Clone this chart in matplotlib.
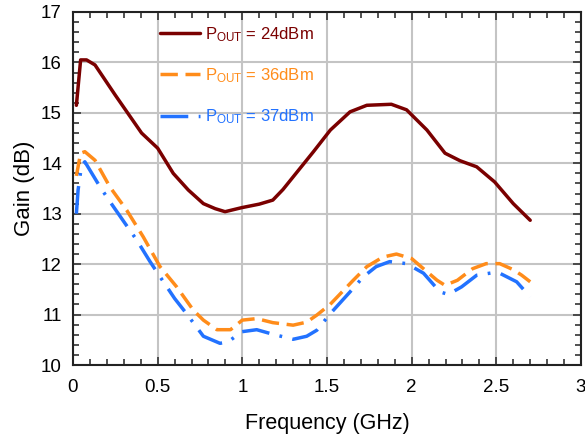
import matplotlib
matplotlib.use("Agg")
import matplotlib.pyplot as plt
from matplotlib.ticker import MultipleLocator

plt.rcParams['font.family'] = ['Liberation Sans', 'DejaVu Sans']
plt.rcParams['mathtext.fontset'] = 'custom'
plt.rcParams['mathtext.rm'] = 'Liberation Sans'
plt.rcParams['mathtext.it'] = 'Liberation Sans'

# P_OUT = 24 dBm
freq_24 = [0.02, 0.045, 0.08, 0.13, 0.25, 0.405, 0.5, 0.592, 0.681, 0.77, 0.84, 0.898, 0.996,
           1.10, 1.18, 1.24, 1.30, 1.42, 1.52, 1.636, 1.735, 1.88, 1.97, 2.09, 2.197, 2.286,
           2.384, 2.49, 2.60, 2.70]
gain_24 = [15.15, 16.05, 16.05, 15.95, 15.35, 14.6, 14.3, 13.8, 13.47, 13.2, 13.1, 13.04, 13.12,
           13.19, 13.27, 13.48, 13.73, 14.23, 14.66, 15.02, 15.15, 15.17, 15.06, 14.66, 14.2, 14.05,
           13.93, 13.63, 13.2, 12.87]

# P_OUT = 36 dBm
freq_36 = [0.02, 0.045, 0.07, 0.13, 0.218, 0.317, 0.415, 0.514, 0.612, 0.71, 0.77, 0.85,
           0.93, 1.0, 1.085, 1.18, 1.30, 1.38, 1.44, 1.518, 1.655, 1.735, 1.83, 1.91, 2.0,
           2.08, 2.15, 2.197, 2.27, 2.36, 2.44, 2.52, 2.60, 2.65, 2.70]
gain_36 = [13.75, 14.2, 14.23, 14.06, 13.53, 13.07, 12.54, 11.95, 11.55, 11.09, 10.89, 10.70,
           10.70, 10.89, 10.92, 10.84, 10.79, 10.85, 10.99, 11.2, 11.68, 11.95, 12.14, 12.2,
           12.11, 11.88, 11.68, 11.58, 11.68, 11.91, 12.01, 12.01, 11.89, 11.78, 11.65]

# P_OUT = 37 dBm
freq_37 = [0.02, 0.03, 0.05, 0.07, 0.16, 0.218, 0.307, 0.376, 0.455, 0.514, 0.60, 0.67,
           0.77, 0.868, 0.917, 0.996, 1.085, 1.18, 1.30, 1.38, 1.44, 1.52, 1.636, 1.715,
           1.79, 1.87, 1.97, 2.07, 2.167, 2.216, 2.295, 2.384, 2.48, 2.52, 2.62, 2.70]
gain_37 = [13.0, 13.47, 13.95, 14.03, 13.53, 13.24, 12.81, 12.48, 12.05, 11.75, 11.32, 11.02,
           10.57, 10.43, 10.46, 10.66, 10.70, 10.61, 10.51, 10.57, 10.69, 11.02, 11.45, 11.75,
           11.95, 12.05, 12.01, 11.82, 11.45, 11.4, 11.55, 11.78, 11.83, 11.82, 11.65, 11.35]

labels = [r'P$_{\mathrm{OUT}}$ = 24dBm', r'P$_{\mathrm{OUT}}$ = 36dBm', r'P$_{\mathrm{OUT}}$ = 37dBm']
colors = ['#7A0000', '#FF8C1A', '#2272FF']

fig = plt.figure(figsize=(5.85, 4.34), dpi=100)
ax = fig.add_axes([73/585, 1-365/434, 508/585, 353/434])

ax.plot(freq_24, gain_24, color=colors[0], lw=2.5, label=labels[0],
        solid_joinstyle='round', solid_capstyle='round')
ax.plot(freq_36, gain_36, color=colors[1], lw=2.5, dashes=(5, 2.2), label=labels[1])
ax.plot(freq_37, gain_37, color=colors[2], lw=2.5, dashes=(8, 3, 0.8, 3), label=labels[2])

ax.set_xlim(0, 3)
ax.set_ylim(10, 17)
ax.xaxis.set_major_locator(MultipleLocator(0.5))
ax.xaxis.set_minor_locator(MultipleLocator(0.1))
ax.yaxis.set_major_locator(MultipleLocator(1))
ax.yaxis.set_minor_locator(MultipleLocator(0.2))
ax.set_xticks([0, 0.5, 1, 1.5, 2, 2.5, 3])
ax.set_xticklabels(['0', '0.5', '1', '1.5', '2', '2.5', '3'])
ax.grid(True, which='major', color='#C4C4C4', lw=1.5)
ax.set_axisbelow(True)
ax.tick_params(which='both', direction='in', top=True, right=True, labelsize=13.5,
               width=1.2, color='#333333')
ax.tick_params(which='major', length=6)
ax.tick_params(axis='x', which='major', pad=10)
ax.tick_params(axis='y', which='major', pad=8)
ax.tick_params(which='minor', length=4)
for s in ax.spines.values():
    s.set_linewidth(1.5)
    s.set_color('#222222')

ax.set_xlabel('Frequency (GHz)', fontsize=15.5, labelpad=12)
ax.set_ylabel('Gain (dB)', fontsize=16, labelpad=4)

leg = ax.legend(loc='upper left', bbox_to_anchor=(0.172, 0.963), frameon=False, fontsize=12,
                handlelength=2.4, handletextpad=0.3, labelspacing=1.35,
                borderaxespad=0, borderpad=0)
for t, c in zip(leg.get_texts(), colors):
    t.set_color(c)

fig.savefig('out.png', dpi=100)
